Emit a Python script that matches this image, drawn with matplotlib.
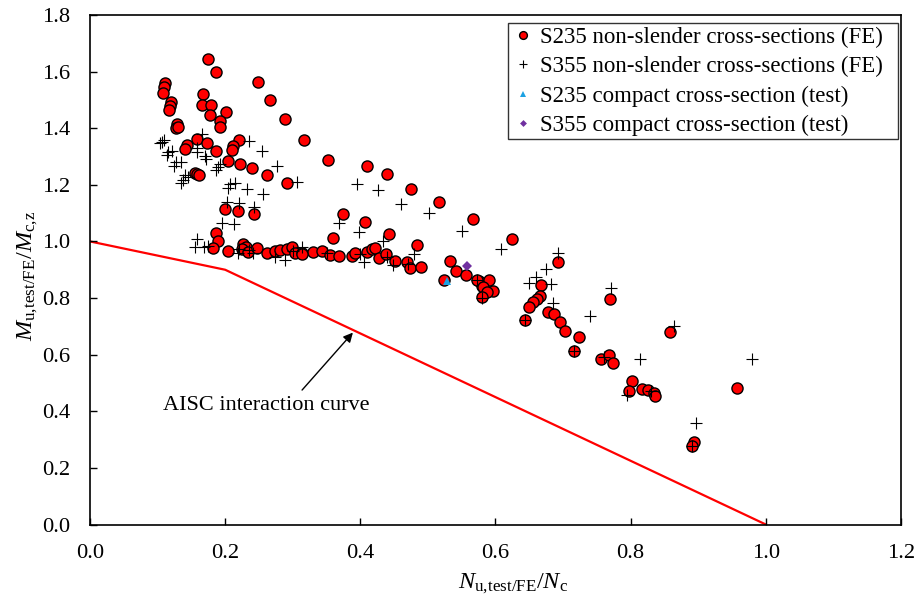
import numpy as np
import matplotlib
matplotlib.use("Agg")
import matplotlib.pyplot as plt

plt.rcParams['font.family'] = ['Liberation Serif', 'DejaVu Serif']
plt.rcParams['mathtext.fontset'] = 'custom'
plt.rcParams['mathtext.rm'] = 'Liberation Serif'
plt.rcParams['mathtext.it'] = 'Liberation Serif:italic'

# S235 non-slender cross-sections (FE)
s235_x = [0.175, 0.1865, 0.249, 0.111, 0.110, 0.1085, 0.167, 0.267, 0.120, 0.119, 0.165, 0.179,
          0.117, 0.201, 0.177, 0.288, 0.193, 0.192, 0.129, 0.127, 0.130, 0.317, 0.159, 0.173,
          0.220, 0.144, 0.140, 0.1865, 0.211, 0.210, 0.204, 0.222, 0.240, 0.262, 0.291, 0.156,
          0.158, 0.161, 0.200, 0.219, 0.242,
          0.352, 0.4095, 0.440, 0.475, 0.517, 0.566, 0.624, 0.375, 0.407, 0.442, 0.360, 0.4835,
          0.533, 0.542, 0.5565, 0.524, 0.575, 0.580, 0.590, 0.597, 0.572, 0.582, 0.587, 0.580,
          0.186, 0.189, 0.1825, 0.2047, 0.227, 0.2305, 0.2245, 0.234, 0.247, 0.2615, 0.274, 0.281,
          0.291, 0.2985, 0.3034, 0.313, 0.3305, 0.313, 0.343, 0.355, 0.368, 0.387, 0.392, 0.4095,
          0.417, 0.422, 0.428, 0.438, 0.451, 0.469, 0.474, 0.4895,
          0.692, 0.668, 0.666, 0.661, 0.656, 0.650, 0.644, 0.677, 0.686, 0.695, 0.703, 0.724,
          0.716, 0.769, 0.7555, 0.768, 0.774, 0.8575, 0.957, 0.817, 0.826, 0.834, 0.836, 0.893,
          0.891, 0.802, 0.798]
s235_y = [1.644, 1.598, 1.564, 1.561, 1.547, 1.526, 1.520, 1.498, 1.492, 1.480, 1.482, 1.483,
          1.465, 1.459, 1.445, 1.434, 1.427, 1.405, 1.414, 1.402, 1.405, 1.360, 1.362, 1.348,
          1.360, 1.340, 1.328, 1.319, 1.337, 1.323, 1.283, 1.273, 1.261, 1.235, 1.206, 1.242,
          1.240, 1.234, 1.115, 1.107, 1.096,
          1.286, 1.268, 1.237, 1.187, 1.138, 1.081, 1.010, 1.098, 1.069, 1.026, 1.013, 0.988,
          0.931, 0.896, 0.882, 0.863, 0.860, 0.844, 0.864, 0.825, 0.864, 0.840, 0.823, 0.803,
          1.029, 1.003, 0.978, 0.968, 0.991, 0.982, 0.972, 0.964, 0.976, 0.960, 0.966, 0.970,
          0.974, 0.982, 0.958, 0.958, 0.964, 0.956, 0.968, 0.952, 0.950, 0.949, 0.960, 0.962,
          0.973, 0.976, 0.941, 0.955, 0.931, 0.927, 0.905, 0.911,
          0.927, 0.846, 0.807, 0.798, 0.785, 0.768, 0.724, 0.750, 0.743, 0.715, 0.685, 0.662,
          0.614, 0.797, 0.584, 0.600, 0.572, 0.681, 0.483, 0.479, 0.475, 0.464, 0.454, 0.291,
          0.279, 0.507, 0.473]

# S355 non-slender cross-sections (FE)
s355_x = [0.165, 0.106, 0.110, 0.1036, 0.115, 0.121, 0.1135, 0.158, 0.159, 0.170, 0.172, 0.127,
          0.135, 0.124, 0.189, 0.187, 0.193, 0.235, 0.255, 0.277, 0.306, 0.1406, 0.137, 0.134,
          0.1455, 0.207, 0.2146, 0.204, 0.233, 0.256, 0.203, 0.2205, 0.243,
          0.195, 0.2136, 0.158, 0.1554, 0.168, 0.2195, 0.2417, 0.274, 0.2886, 0.313,
          0.175, 0.220, 0.235, 0.300, 0.350, 0.400, 0.440, 0.470,
          0.395, 0.426, 0.460, 0.502, 0.551, 0.608, 0.369, 0.398, 0.434, 0.479, 0.405, 0.449,
          0.573, 0.580, 0.644,
          0.692, 0.6745, 0.660, 0.650, 0.682, 0.685, 0.740, 0.771, 0.814, 0.864, 0.980, 0.897,
          0.794, 0.716, 0.760, 0.891, 0.830]
s355_y = [1.379, 1.353, 1.359, 1.347, 1.317, 1.321, 1.306, 1.329, 1.317, 1.302, 1.291, 1.282,
          1.282, 1.268, 1.264, 1.253, 1.273, 1.356, 1.321, 1.267, 1.211, 1.235, 1.217, 1.206,
          1.229, 1.203, 1.206, 1.188, 1.184, 1.168, 1.141, 1.135, 1.123,
          1.064, 1.062, 1.008, 0.982, 0.982, 0.958, 0.958, 0.946, 0.935, 0.982,
          0.985, 0.975, 0.970, 0.965, 0.960, 0.955, 0.945, 0.920,
          1.202, 1.182, 1.133, 1.101, 1.038, 0.975, 1.065, 1.035, 1.000, 0.955, 0.927, 0.917,
          0.865, 0.800, 0.724,
          0.958, 0.903, 0.874, 0.852, 0.850, 0.784, 0.738, 0.835, 0.586, 0.701, 0.585, 0.358,
          0.458, 0.612, 0.590, 0.279, 0.470]

# tests
test235_x = [0.528]
test235_y = [0.860]
test355_x = [0.5585]
test355_y = [0.915]

# AISC interaction curve
aisc_x = [0.0, 0.2, 1.0]
aisc_y = [1.0, 0.9, 0.0]

fig = plt.figure(figsize=(9.2, 6.03), dpi=100)
ax = fig.add_axes([90 / 920, 1 - 524.5 / 603, 811 / 920, 509.5 / 603])

ax.plot(aisc_x, aisc_y, color='red', lw=1.6, zorder=1)
ax.plot(s235_x, s235_y, 'o', ms=8, mfc='red', mec='black', mew=1.0,
        label='S235 non-slender cross-sections (FE)  ', zorder=2)
ax.plot(s355_x, s355_y, '+', ms=8, color='black', mew=0.8,
        label='S355 non-slender cross-sections (FE)  ', zorder=3)
ax.plot(test235_x, test235_y, '^', ms=6, color='#1ba1e2', mew=0,
        label='S235 compact cross-section (test)', zorder=4)
ax.plot(test355_x, test355_y, 'D', ms=5, color='#7030a0', mew=0,
        label='S355 compact cross-section (test)', zorder=4)

# annotation
ax.text(0.2615, 0.422, 'AISC interaction curve', ha='center', va='center', fontsize=16)
ax.annotate('', xy=(0.389, 0.678), xytext=(0.3138, 0.475),
            arrowprops=dict(arrowstyle='-|>', color='black', lw=1.0,
                            shrinkA=0, shrinkB=0, mutation_scale=14))

ax.set_xlim(0, 1.2)
ax.set_ylim(0, 1.8)
ax.set_xticks(np.arange(0, 1.21, 0.2))
ax.set_yticks(np.arange(0, 1.81, 0.2))
ax.xaxis.set_major_formatter(plt.FormatStrFormatter('%.1f'))
ax.yaxis.set_major_formatter(plt.FormatStrFormatter('%.1f'))
ax.tick_params(direction='in', length=5, width=1, labelsize=16.2, pad=14)
for sp in ax.spines.values():
    sp.set_linewidth(1.2)

ax.set_xlabel(r'$N_{\mathrm{u,\!test/FE}}/N_{\mathrm{c}}$', fontsize=17.5)
ax.xaxis.set_label_coords(0.522, -0.093)
ax.set_ylabel(r'$M_{\mathrm{u,\!test/FE}}/M_{\mathrm{c,\!z}}$', fontsize=17.5)
ax.yaxis.set_label_coords(-0.062, 0.489)

leg = ax.legend(loc='upper right', bbox_to_anchor=(0.9963, 0.984), borderaxespad=0,
                fontsize=16.5, frameon=True, fancybox=False, edgecolor='black',
                handlelength=1.0, handletextpad=0.25, labelspacing=0.36,
                borderpad=0.15, markerscale=0.7)
leg.get_frame().set_linewidth(1.0)

fig.savefig('out.png', dpi=100)
